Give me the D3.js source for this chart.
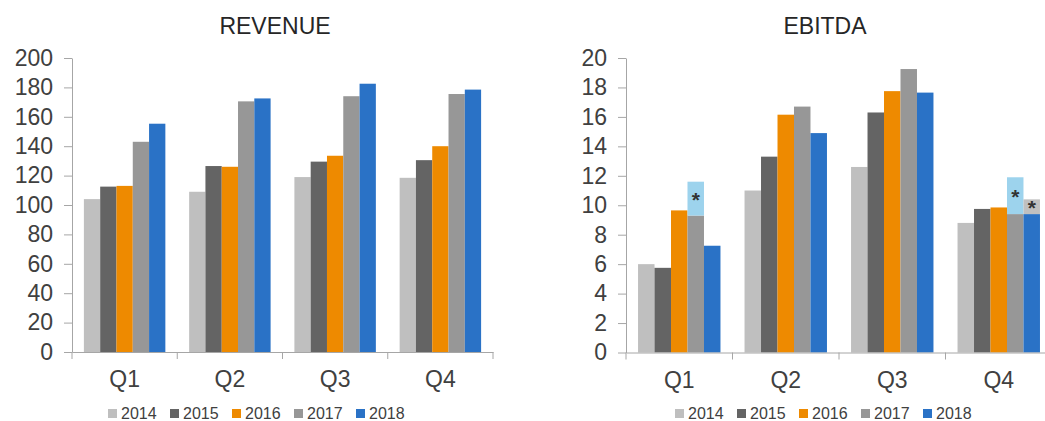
<!DOCTYPE html>
<html>
<head>
<meta charset="utf-8">
<script src="https://cdn.jsdelivr.net/npm/d3@7"></script>
<style>
  body { margin: 0; background: #fff; }
  svg { display: block; font-family: "Liberation Sans", Arial, sans-serif; }
  .axis path, .axis line { stroke: #a6a6a6; }
  .axis text { fill: #404040; }
</style>
</head>
<body>
<div id="chart"></div>
<script>
const quarters = ['Q1', 'Q2', 'Q3', 'Q4'];
const years = ['2014', '2015', '2016', '2017', '2018'];
const colors = ['#bfbfbf', '#646464', '#ee8a00', '#979797', '#2a72c6'];

const revenue2014 = [104, 109, 119, 118.5];
const revenue2015 = [112.5, 126.5, 129.5, 130.5];
const revenue2016 = [113, 126, 133.5, 140];
const revenue2017 = [143, 170.5, 174, 175.5];
const revenue2018 = [155.3, 172.5, 182.5, 178.5];
const revenueTicks = [0, 20, 40, 60, 80, 100, 120, 140, 160, 180, 200];

const ebitda2014 = [6.0, 11.0, 12.6, 8.8];
const ebitda2015 = [5.75, 13.3, 16.3, 9.75];
const ebitda2016 = [9.65, 16.15, 17.75, 9.85];
const ebitda2017 = [9.3, 16.7, 19.25, 9.4];
const ebitda2018 = [7.25, 14.9, 17.65, 9.4];
// adjusted (*) tops drawn above the reported bar
const ebitdaAdj2017 = [11.6, null, null, 11.9];
const ebitdaAdj2018 = [null, null, null, 10.4];
const ebitdaTicks = [0, 2, 4, 6, 8, 10, 12, 14, 16, 18, 20];

const W = 1045, H = 421;
const svg = d3.select('#chart').append('svg').attr('width', W).attr('height', H);

function drawChart(opts) {
  const { left, width, top, bottom, title, series, adj, adjColors, ticks, maxY, titleX, legendX } = opts;
  const g = svg.append('g');

  const y = d3.scaleLinear().domain([0, maxY]).range([bottom, top]);
  const x0 = d3.scaleBand().domain(quarters).range([left, left + width]);
  const x1 = d3.scaleBand().domain(years).range([0, x0.bandwidth()]).paddingOuter(0.73);

  g.append('text')
    .attr('x', titleX).attr('y', 34)
    .attr('text-anchor', 'middle')
    .attr('font-size', '23px')
    .attr('fill', '#262626')
    .text(title);

  // bars
  quarters.forEach((q, qi) => {
    years.forEach((yr, yi) => {
      const v = series[yi][qi];
      g.append('rect')
        .attr('x', x0(q) + x1(yr))
        .attr('y', y(v))
        .attr('width', x1.bandwidth())
        .attr('height', y(0) - y(v))
        .attr('fill', colors[yi]);
      if (adj && adj[yi] && adj[yi][qi] != null) {
        const a = adj[yi][qi];
        g.append('rect')
          .attr('x', x0(q) + x1(yr))
          .attr('y', y(a))
          .attr('width', x1.bandwidth())
          .attr('height', y(v) - y(a))
          .attr('fill', adjColors[yi]);
        g.append('text')
          .attr('x', x0(q) + x1(yr) + x1.bandwidth() / 2)
          .attr('y', (y(a) + y(v)) / 2 + 8)
          .attr('text-anchor', 'middle')
          .attr('font-size', '21px')
          .attr('font-weight', 'bold')
          .attr('fill', '#333')
          .text('*');
      }
    });
  });

  // y axis
  g.append('g')
    .attr('class', 'axis')
    .attr('transform', `translate(${left},0)`)
    .call(d3.axisLeft(y).tickValues(ticks).tickSize(8).tickSizeOuter(0).tickPadding(11))
    .call(s => s.selectAll('text').attr('font-size', '23px').style('font-family', 'inherit'));

  // x axis: line + labels
  g.append('g')
    .attr('class', 'axis')
    .attr('transform', `translate(0,${bottom})`)
    .call(d3.axisBottom(x0).tickSize(0).tickSizeOuter(0).tickPadding(19))
    .call(s => s.selectAll('text').attr('font-size', '23px').style('font-family', 'inherit'));

  // category dividers
  const edges = quarters.map(q => x0(q)).concat([x0.range()[1]]);
  g.selectAll('line.div').data(edges).enter().append('line')
    .attr('x1', d => d).attr('x2', d => d)
    .attr('y1', bottom).attr('y2', bottom + 7)
    .attr('stroke', '#a6a6a6');

  // legend
  const lg = g.append('g').attr('transform', `translate(${legendX},0)`);
  years.forEach((yr, i) => {
    const item = lg.append('g').attr('transform', `translate(${i * 62},0)`);
    item.append('rect').attr('x', 0).attr('y', 409).attr('width', 9).attr('height', 9).attr('fill', colors[i]);
    item.append('text').attr('x', 13).attr('y', 419).attr('font-size', '16px').attr('fill', '#404040').text(yr);
  });
}

drawChart({
  left: 72, width: 421, top: 58, bottom: 352,
  title: 'REVENUE', titleX: 275, legendX: 108,
  series: [revenue2014, revenue2015, revenue2016, revenue2017, revenue2018],
  ticks: revenueTicks, maxY: 200
});

drawChart({
  left: 626, width: 426, top: 58, bottom: 352.5,
  title: 'EBITDA', titleX: 825, legendX: 675,
  series: [ebitda2014, ebitda2015, ebitda2016, ebitda2017, ebitda2018],
  adj: [null, null, null, ebitdaAdj2017, ebitdaAdj2018],
  adjColors: [null, null, null, '#9dd3ed', '#c0c0c0'],
  ticks: ebitdaTicks, maxY: 20
});
</script>
</body>
</html>
